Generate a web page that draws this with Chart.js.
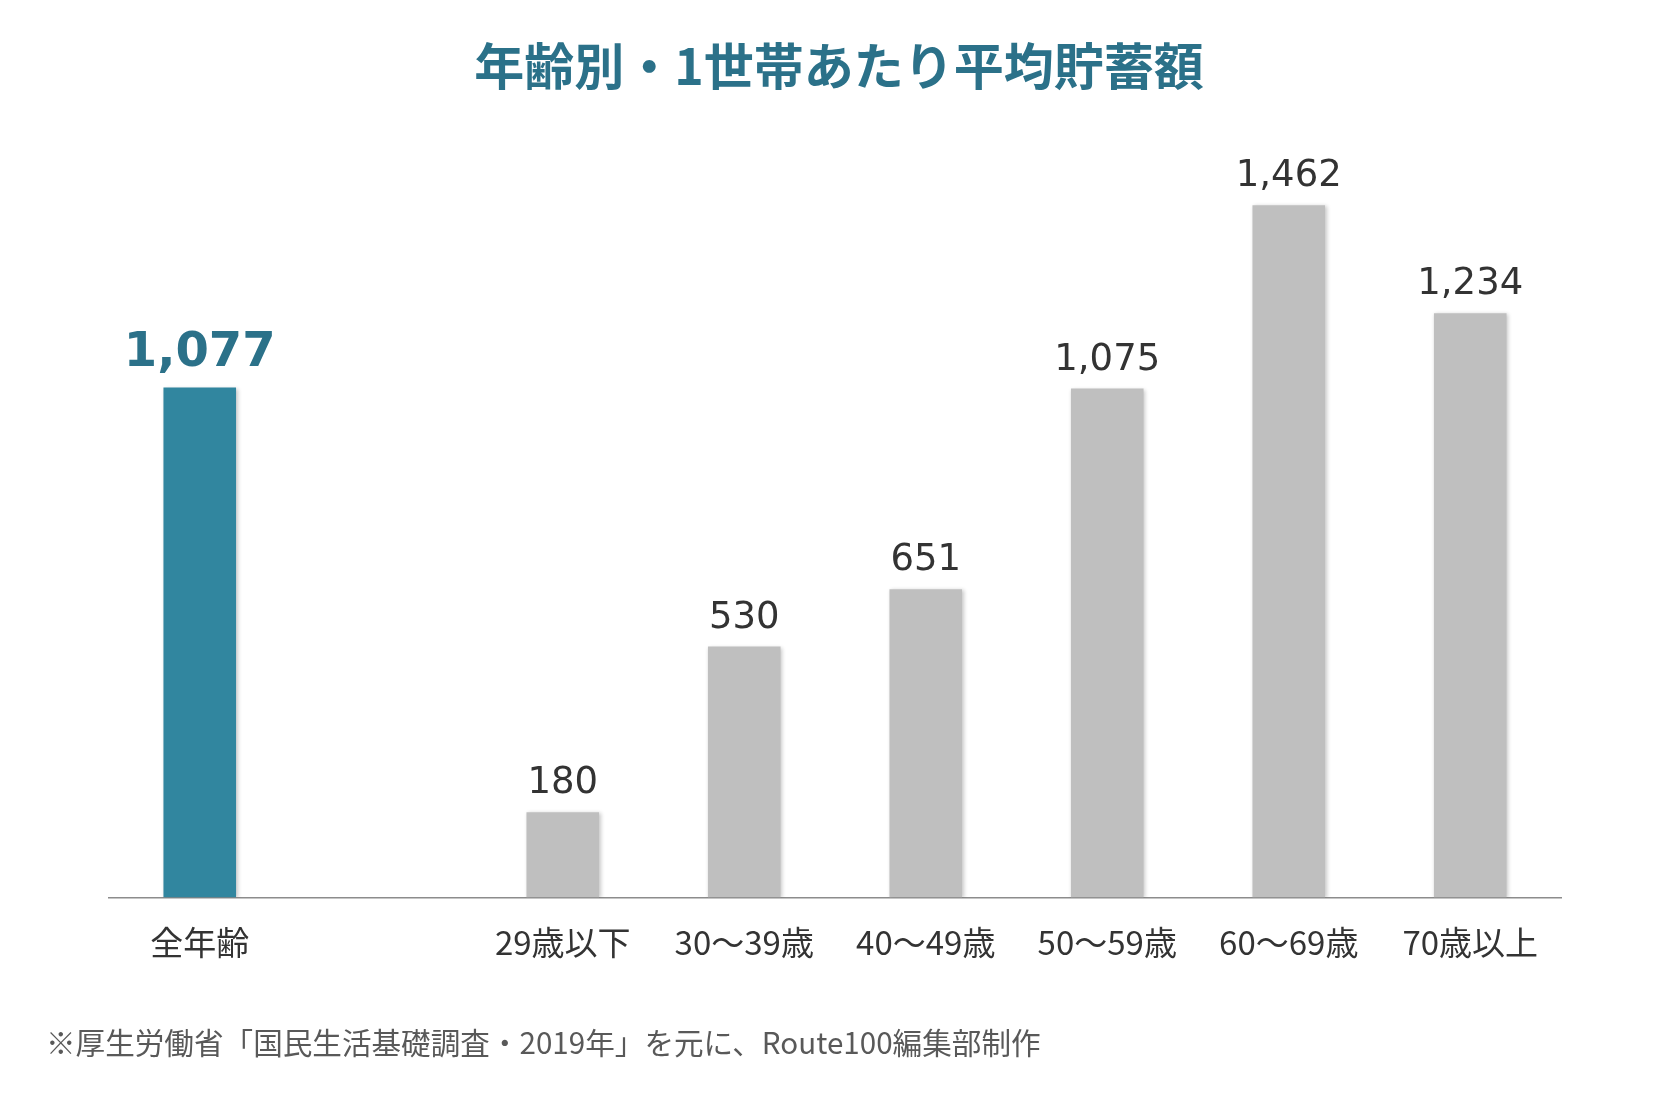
<!DOCTYPE html>
<html lang="ja">
<head>
<meta charset="utf-8">
<title>年齢別・1世帯あたり平均貯蓄額</title>
<script src="https://cdn.jsdelivr.net/npm/chart.js@4/dist/chart.umd.min.js"></script>
<style>
  html, body { margin: 0; padding: 0; background: #fff; }
  #wrap { width: 1667px; height: 1098px; }
</style>
</head>
<body>
<div id="wrap"><canvas id="savingsChart" width="1667" height="1098"></canvas></div>
<script>
// data (万円)
const categories = ['全年齢', '', '29歳以下', '30〜39歳', '40〜49歳', '50〜59歳', '60〜69歳', '70歳以上'];
const savings = [1077, null, 180, 530, 651, 1075, 1462, 1234];
const titleText = '年齢別・1世帯あたり平均貯蓄額';
const noteText = '※厚生労働省「国民生活基礎調査・2019年」を元に、Route100編集部制作';

const teal = '#31869f';
const tealDark = '#2b7189';
const gray = '#bfbfbf';

const barColors = savings.map((v, i) => i === 0 ? teal : gray);

// soft shadow under bars
const barShadow = {
    id: 'barShadow',
    beforeDatasetsDraw(chart) {
        const c = chart.ctx;
        c.save();
        c.shadowColor = 'rgba(0,0,0,0.22)';
        c.shadowBlur = 4;
        c.shadowOffsetX = 1.5;
        c.shadowOffsetY = 1;
    },
    afterDatasetsDraw(chart) {
        chart.ctx.restore();
    }
};

// value labels + title + footnote
const textLayer = {
    id: 'textLayer',
    afterDraw(chart) {
        const c = chart.ctx;
        const meta = chart.getDatasetMeta(0);
        c.save();
        c.textAlign = 'center';
        c.textBaseline = 'alphabetic';
        meta.data.forEach((bar, i) => {
            const v = savings[i];
            if (v == null) return;
            const label = v.toLocaleString('en-US');
            if (i === 0) {
                c.font = 'bold 48px "DejaVu Sans"';
                c.fillStyle = tealDark;
                c.fillText(label, bar.x, bar.y - 22);
            } else {
                c.font = '37px "DejaVu Sans"';
                c.fillStyle = '#333333';
                c.fillText(label, bar.x, bar.y - 19);
            }
        });

        // title
        c.font = 'bold 50px "Noto Sans CJK JP"';
        c.fillStyle = tealDark;
        c.textBaseline = 'middle';
        c.fillText(titleText, 839, 66);

        // footnote
        c.font = '29.6px "Noto Sans CJK JP"';
        c.fillStyle = '#595959';
        c.textAlign = 'left';
        c.fillText(noteText, 46, 1043);
        c.restore();
    }
};

const ctx = document.getElementById('savingsChart').getContext('2d');
const savingsChart = new Chart(ctx, {
    type: 'bar',
    data: {
        labels: categories,
        datasets: [{
            data: savings,
            backgroundColor: barColors,
            borderWidth: 0,
            barPercentage: 0.4,
            categoryPercentage: 1.0
        }]
    },
    options: {
        responsive: false,
        animation: false,
        events: [],
        layout: {
            padding: { left: 109, right: 106, top: 140, bottom: 111 }
        },
        plugins: {
            legend: { display: false },
            title: { display: false },
            tooltip: { enabled: false }
        },
        scales: {
            x: {
                grid: { display: false, drawTicks: false },
                border: { display: true, color: '#8c8c8c', width: 1.5 },
                ticks: {
                    color: '#333333',
                    padding: 25,
                    maxRotation: 0,
                    autoSkip: false,
                    font: { family: '"Noto Sans CJK JP"', size: 33 }
                }
            },
            y: {
                display: false,
                beginAtZero: true,
                min: 0,
                max: 1600
            }
        }
    },
    plugins: [barShadow, textLayer]
});
</script>
</body>
</html>
